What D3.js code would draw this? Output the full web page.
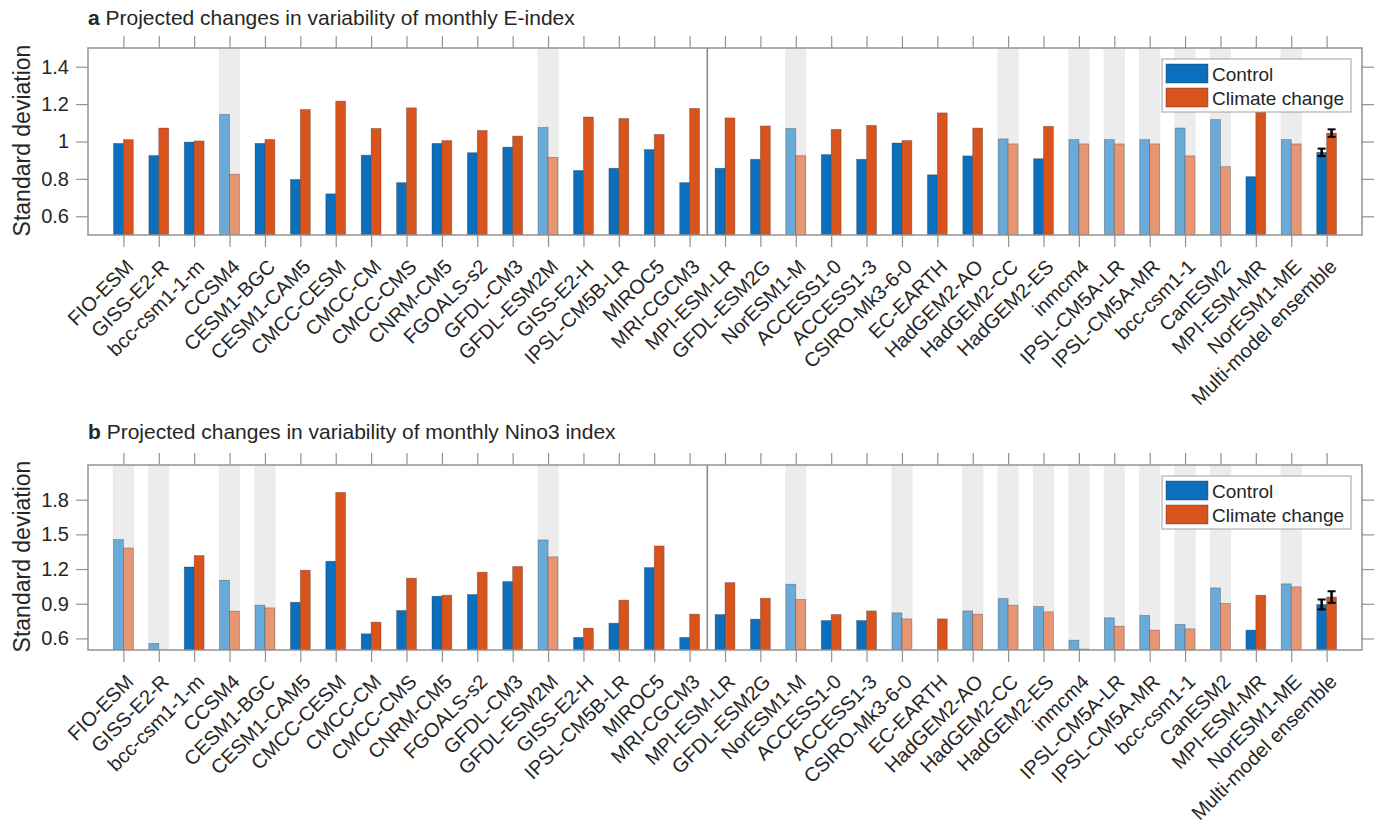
<!DOCTYPE html>
<html><head><meta charset="utf-8">
<script src="https://cdn.jsdelivr.net/npm/d3@7"></script>
<style>
body{margin:0;background:#fff;}
svg text{font-family:"Liberation Sans", Arial, Helvetica, sans-serif; fill:#262626;}
</style>
</head><body>
<svg id="chart" width="1375" height="832"></svg>
<script>
// ---------------- data ----------------
const models = ["FIO-ESM","GISS-E2-R","bcc-csm1-1-m","CCSM4","CESM1-BGC","CESM1-CAM5","CMCC-CESM","CMCC-CM","CMCC-CMS","CNRM-CM5","FGOALS-s2","GFDL-CM3","GFDL-ESM2M","GISS-E2-H","IPSL-CM5B-LR","MIROC5","MRI-CGCM3","MPI-ESM-LR","GFDL-ESM2G","NorESM1-M","ACCESS1-0","ACCESS1-3","CSIRO-Mk3-6-0","EC-EARTH","HadGEM2-AO","HadGEM2-CC","HadGEM2-ES","inmcm4","IPSL-CM5A-LR","IPSL-CM5A-MR","bcc-csm1-1","CanESM2","MPI-ESM-MR","NorESM1-ME","Multi-model ensemble"];

// Panel a: E-index
const eControl = [0.99,0.925,0.997,1.145,0.99,0.797,0.72,0.927,0.78,0.99,0.94,0.97,1.075,0.845,0.857,0.957,0.78,0.857,0.905,1.07,0.93,0.905,0.992,0.822,0.923,1.014,0.908,1.01,1.01,1.01,1.072,1.117,0.812,1.01,0.942];
const eClimate = [1.01,1.072,1.003,0.825,1.011,1.171,1.216,1.07,1.18,1.005,1.059,1.029,0.915,1.131,1.123,1.038,1.177,1.126,1.083,0.924,1.065,1.086,1.005,1.153,1.072,0.987,1.081,0.987,0.987,0.987,0.923,0.865,1.17,0.987,1.045];
const eShaded = ["CCSM4","GFDL-ESM2M","NorESM1-M","HadGEM2-CC","inmcm4","IPSL-CM5A-LR","IPSL-CM5A-MR","bcc-csm1-1","CanESM2","NorESM1-ME"];
const eEnsembleErr = [0.02, 0.02];
const eTicks = [0.6, 0.8, 1, 1.2, 1.4];
const eDomain = [0.5, 1.5];

// Panel b: Nino3 index
const nControl = [1.455,0.557,1.218,1.103,0.888,0.913,1.268,0.64,0.842,0.965,0.98,1.092,1.452,0.609,0.732,1.213,0.609,0.807,0.767,1.069,0.755,0.755,0.821,0.45,0.838,0.945,0.876,0.585,0.778,0.799,0.721,1.037,0.672,1.072,0.894];
const nClimate = [1.382,0.45,1.317,0.836,0.864,1.19,1.863,0.741,1.121,0.974,1.173,1.222,1.305,0.689,0.931,1.4,0.81,1.083,0.948,0.937,0.807,0.838,0.769,0.769,0.81,0.888,0.83,0.508,0.706,0.672,0.683,0.902,0.974,1.046,0.958];
const nShaded = ["FIO-ESM","GISS-E2-R","CCSM4","CESM1-BGC","GFDL-ESM2M","NorESM1-M","CSIRO-Mk3-6-0","HadGEM2-AO","HadGEM2-CC","HadGEM2-ES","inmcm4","IPSL-CM5A-LR","IPSL-CM5A-MR","bcc-csm1-1","CanESM2","NorESM1-ME"];
const nEnsembleErr = [0.043, 0.05];
const nTicks = [0.6, 0.9, 1.2, 1.5, 1.8];
const nDomain = [0.5, 2.1];

const seriesNames = ["Control", "Climate change"];

// ---------------- style ----------------
const colors = {control:"#0c6fbd", climate:"#d9541c", controlLight:"#69aad8", climateLight:"#e69672", shade:"#ececec", axis:"#939393"};
const L = 88, R = 1362;
const svg = d3.select("#chart");
const x = d3.scaleLinear().domain([0, models.length + 1]).range([L, R]);
const barW = 0.28;

function panel(opts){
  const {top, bottom, control, climate, shaded, err, ticks, domain, letter, title, id, titleY} = opts;
  const y = d3.scaleLinear().domain(domain).range([bottom, top]);
  const g = svg.append("g");
  const clipId = "clip" + id;
  g.append("clipPath").attr("id", clipId).append("rect")
    .attr("x", L).attr("y", top).attr("width", R - L).attr("height", bottom - top);
  const plot = g.append("g").attr("clip-path", `url(#${clipId})`);

  // shading
  plot.selectAll("rect.shade").data(models.filter(m => shaded.includes(m)))
    .join("rect").attr("class","shade")
    .attr("x", m => x(models.indexOf(m) + 1 - 0.3))
    .attr("width", x(0.6) - x(0))
    .attr("y", top).attr("height", bottom - top)
    .attr("fill", colors.shade);

  // separator
  plot.append("line").attr("x1", x(17.5)).attr("x2", x(17.5)).attr("y1", top).attr("y2", bottom)
    .attr("stroke", "#8a8a8a").attr("stroke-width", 1.6);

  const rows = models.map((m, i) => ({m, i, c: control[i], k: climate[i], s: shaded.includes(m)}));
  const base = y(domain[0]);
  plot.selectAll("rect.ctl").data(rows).join("rect").attr("class","ctl")
    .attr("x", d => x(d.i + 1 - barW))
    .attr("width", x(barW) - x(0))
    .attr("y", d => Math.min(base, y(d.c)))
    .attr("height", d => Math.max(0, base - y(d.c)))
    .attr("fill", d => d.s ? colors.controlLight : colors.control)
    .attr("stroke", "#333").attr("stroke-opacity", 0.45).attr("stroke-width", 0.7);
  plot.selectAll("rect.clm").data(rows).join("rect").attr("class","clm")
    .attr("x", d => x(d.i + 1))
    .attr("width", x(barW) - x(0))
    .attr("y", d => Math.min(base, y(d.k)))
    .attr("height", d => Math.max(0, base - y(d.k)))
    .attr("fill", d => d.s ? colors.climateLight : colors.climate)
    .attr("stroke", "#333").attr("stroke-opacity", 0.45).attr("stroke-width", 0.7);

  // ensemble error bars
  const last = models.length - 1;
  const ebs = [{cx: last + 1 - barW/2, v: control[last], e: err[0]}, {cx: last + 1 + barW/2, v: climate[last], e: err[1]}];
  const eb = plot.selectAll("g.eb").data(ebs).join("g").attr("class","eb");
  eb.append("line").attr("x1", d => x(d.cx)).attr("x2", d => x(d.cx))
    .attr("y1", d => y(d.v - d.e)).attr("y2", d => y(d.v + d.e)).attr("stroke","#000").attr("stroke-width",2.5);
  eb.append("line").attr("x1", d => x(d.cx) - 4).attr("x2", d => x(d.cx) + 4)
    .attr("y1", d => y(d.v - d.e)).attr("y2", d => y(d.v - d.e)).attr("stroke","#000").attr("stroke-width",2);
  eb.append("line").attr("x1", d => x(d.cx) - 4).attr("x2", d => x(d.cx) + 4)
    .attr("y1", d => y(d.v + d.e)).attr("y2", d => y(d.v + d.e)).attr("stroke","#000").attr("stroke-width",2);

  // axes
  const idx = d3.range(1, models.length + 1);
  const styleAxis = sel => { sel.selectAll(".domain").remove(); sel.selectAll(".tick line").attr("stroke", colors.axis).attr("stroke-width", 1.2); };
  const xb = g.append("g").attr("transform", `translate(0,${bottom})`)
    .call(d3.axisBottom(x).tickValues(idx).tickSize(12).tickFormat(i => models[i-1]));
  styleAxis(xb);
  xb.selectAll(".tick text")
    .attr("font-size", 20).attr("text-anchor", "end")
    .attr("x", 0).attr("y", 0).attr("dy", "0.35em")
    .attr("transform", "translate(6,28) rotate(-45)");
  const xt = g.append("g").attr("transform", `translate(0,${top})`)
    .call(d3.axisTop(x).tickValues(idx).tickSize(12).tickFormat(""));
  styleAxis(xt);
  const yl = g.append("g").attr("transform", `translate(${L},0)`)
    .call(d3.axisLeft(y).tickValues(ticks).tickSize(12).tickPadding(7).tickFormat(d3.format("~g")));
  styleAxis(yl);
  yl.selectAll(".tick text").attr("font-size", 20);
  const yr = g.append("g").attr("transform", `translate(${R},0)`)
    .call(d3.axisRight(y).tickValues(ticks).tickSize(12).tickFormat(""));
  styleAxis(yr);

  // box
  g.append("rect").attr("x", L).attr("y", top).attr("width", R - L).attr("height", bottom - top)
    .attr("fill", "none").attr("stroke", colors.axis).attr("stroke-width", 1.5);

  // y label
  g.append("text").attr("transform", `translate(22,${(top + bottom)/2 - 1}) rotate(-90)`)
    .attr("text-anchor", "middle").attr("dy", "0.35em").attr("font-size", 23).text("Standard deviation");

  // title
  const t = g.append("text").attr("x", L).attr("y", titleY).attr("font-size", 21);
  t.append("tspan").attr("font-weight", "bold").text(letter);
  t.append("tspan").text(" " + title);

  // legend
  const lg = g.append("g").attr("transform", `translate(1162,${top + 11})`);
  lg.append("rect").attr("width", 189).attr("height", 53).attr("fill", "#fff").attr("stroke", "#a0a0a0").attr("stroke-width", 1);
  const legColors = [colors.control, colors.climate];
  seriesNames.forEach((s, i) => {
    lg.append("rect").attr("x", 4).attr("y", 5 + i * 24).attr("width", 42).attr("height", 19)
      .attr("fill", legColors[i]).attr("stroke", "#333").attr("stroke-opacity", 0.5).attr("stroke-width", 0.8);
    lg.append("text").attr("x", 50).attr("y", 15 + i * 24).attr("dy", "0.35em").attr("font-size", 19).text(s);
  });
}

panel({id:"a", top:48, bottom:235, titleY:25, control:eControl, climate:eClimate, shaded:eShaded, err:eEnsembleErr,
  ticks:eTicks, domain:eDomain, letter:"a", title:"Projected changes in variability of monthly E-index"});
panel({id:"b", top:465, bottom:650, titleY:439, control:nControl, climate:nClimate, shaded:nShaded, err:nEnsembleErr,
  ticks:nTicks, domain:nDomain, letter:"b", title:"Projected changes in variability of monthly Nino3 index"});
</script>
</body></html>
